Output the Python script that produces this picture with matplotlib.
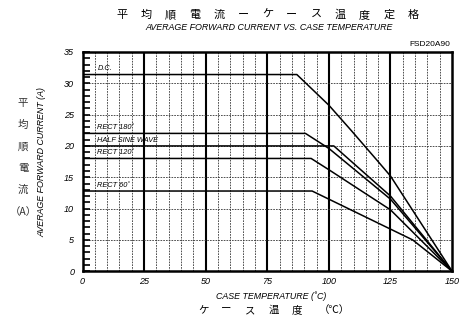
import matplotlib
matplotlib.use("Agg")
import matplotlib.pyplot as plt
from matplotlib.ticker import MultipleLocator

# Derating curves
temp_dc = [0, 87, 100, 109, 120, 125, 150]
cur_dc = [31.4, 31.4, 26.5, 22.5, 17.5, 15.2, 0]

temp_r180 = [0, 90.5, 100, 125, 150]
cur_r180 = [22, 22, 19.6, 11.5, 0]

temp_hsw = [0, 102, 125, 150]
cur_hsw = [20, 20, 12.0, 0]

temp_r120 = [0, 92.8, 100, 125, 150]
cur_r120 = [18, 18, 16.2, 9.8, 0]

temp_r60 = [0, 93.2, 100, 134, 150]
cur_r60 = [12.8, 12.8, 11.5, 5, 0]

curves = [
  (temp_dc, cur_dc, "D.C."),
  (temp_r180, cur_r180, "RECT 180˚"),
  (temp_hsw, cur_hsw, "HALF SINE WAVE"),
  (temp_r120, cur_r120, "RECT 120˚"),
  (temp_r60, cur_r60, "RECT 60˚"),
]

narrow = ["Liberation Sans Narrow", "Liberation Sans", "DejaVu Sans"]
jp = ["Noto Sans CJK JP", "DejaVu Sans"]

W, H = 467, 317
fig = plt.figure(figsize=(W / 100, H / 100), dpi=100)
ax = fig.add_axes([0.1767, 0.1445, 0.7913, 0.6915])

ax.set_xlim(0, 150)
ax.set_ylim(0, 35)

# grid: dashed every 5, solid every 25 on x
dash = (0, (2, 1.3))
for x in range(5, 150, 5):
  if x % 25 == 0:
    ax.axvline(x, color="black", lw=1.5, zorder=1)
  else:
    ax.axvline(x, color="#333333", lw=0.6, ls=dash, zorder=1)
for y in range(5, 35, 5):
  ax.axhline(y, color="#333333", lw=0.6, ls=dash, zorder=1)

for t, c, name in curves:
  ax.plot(t, c, color="black", lw=1.1, zorder=3)
  ax.text(6, c[0] + 0.35, name, fontsize=5.3, family=narrow, style="italic",
          va="bottom", ha="left", zorder=4)

for s in ax.spines.values():
  s.set_linewidth(1.8)

ax.xaxis.set_major_locator(MultipleLocator(25))
ax.yaxis.set_major_locator(MultipleLocator(5))
ax.yaxis.set_minor_locator(MultipleLocator(1))
ax.tick_params(axis="x", length=0, pad=4, labelsize=6.5)
ax.tick_params(axis="y", which="both", direction="in", length=5, width=1.2,
               pad=6, labelsize=6.5)
for lab in ax.get_xticklabels() + ax.get_yticklabels():
  lab.set_fontstyle("italic")
  lab.set_family(narrow)

# Japanese title, one character at a time, widely spaced
title_jp = ["平", "均", "順", "電", "流", "ー", "ケ", "ー", "ス", "温", "度", "定", "格"]
for i, ch in enumerate(title_jp):
  fig.text((122 + i * 24.25) / W, 1 - 15 / H, ch, family=jp, fontsize=8,
           ha="center", va="center")
fig.text(269 / W, 1 - 27 / H, "AVERAGE FORWARD CURRENT VS. CASE TEMPERATURE",
         family=narrow, style="italic", fontsize=6.4, ha="center", va="center")
fig.text(450 / W, 1 - 44 / H, "FSD20A90", family=narrow, fontsize=6,
         ha="right", va="center")

# y label
fig.text(42 / W, 1 - 162 / H, "AVERAGE FORWARD CURRENT (A)", family=narrow,
         style="italic", fontsize=6.4, rotation=90, ha="center", va="center")
jp_y = ["平", "均", "順", "電", "流", "（A）"]
for i, ch in enumerate(jp_y):
  fig.text(23 / W, 1 - (103 + i * 21.8) / H, ch, family=jp, fontsize=7.5,
           color="#333333", ha="center", va="center")

# x label
fig.text(271 / W, 1 - 296 / H, "CASE TEMPERATURE (˚C)", family=narrow,
         style="italic", fontsize=6.4, ha="center", va="center")
jp_x = ["ケ", "ー", "ス", "温", "度"]
for i, ch in enumerate(jp_x):
  fig.text((203 + i * 23.5) / W, 1 - 310 / H, ch, family=jp, fontsize=7.5,
           ha="center", va="center")
fig.text(334 / W, 1 - 310 / H, "（℃）", family=jp, fontsize=7.5,
         ha="center", va="center")

fig.savefig("out.png", dpi=100)
